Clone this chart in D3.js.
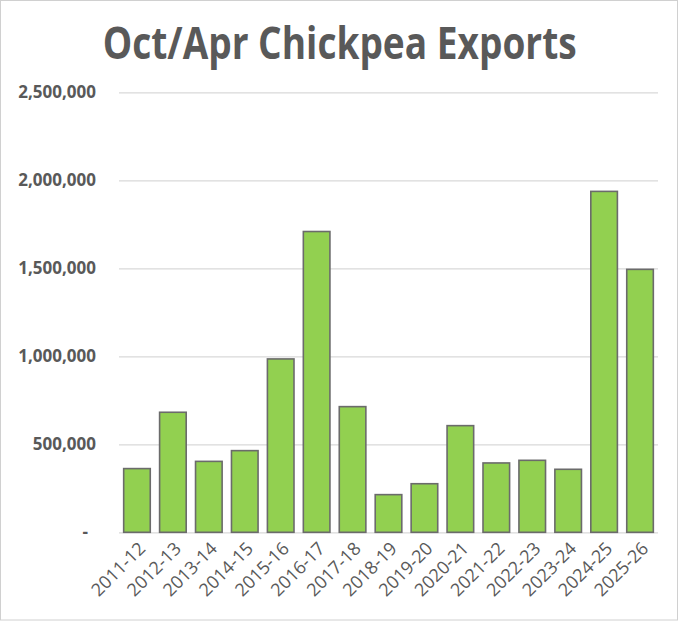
<!DOCTYPE html>
<html><head><meta charset="utf-8">
<script src="https://cdn.jsdelivr.net/npm/d3@7"></script>
<style>
html,body{margin:0;padding:0;background:#fff;}
svg{display:block;}
</style></head>
<body>
<svg id="chart" width="680" height="622"></svg>
<script>
const title = "Oct/Apr Chickpea Exports";
const categories = ["2011-12","2012-13","2013-14","2014-15","2015-16","2016-17","2017-18","2018-19","2019-20","2020-21","2021-22","2022-23","2023-24","2024-25","2025-26"];
const exportsValues = [362000,682000,403000,464000,985000,1709000,714000,214000,276000,606000,394000,409000,358000,1937000,1494000];
const yTicks = [0,500000,1000000,1500000,2000000,2500000];

const svg = d3.select("#chart");
const W = 680, H = 622;
const m = {left:119, right:22, top:92.3, bottom:89.7};

// chart border
svg.append("rect").attr("x",0.5).attr("y",0.5).attr("width",W-3).attr("height",H-2.5)
  .attr("fill","#fff").attr("stroke","#d0d0d0").attr("stroke-width",1);

const x = d3.scaleBand().domain(categories).range([m.left, W-m.right]).paddingInner(0.26).paddingOuter(0.13);
const y = d3.scaleLinear().domain([0,2500000]).range([H-m.bottom, m.top]);

// title
svg.append("text").attr("x",339.7).attr("y",58.7).attr("text-anchor","middle")
  .attr("font-family","'Open Sans', sans-serif").attr("font-weight",700).attr("font-size",44)
  .attr("fill","#595959").attr("textLength",474).attr("lengthAdjust","spacingAndGlyphs")
  .text(title);

// gridlines
const yAxis = d3.axisLeft(y).tickValues(yTicks).tickSize(-(W-m.right-m.left)).tickFormat("");
const ga = svg.append("g").attr("transform",`translate(${m.left},0)`).call(yAxis);
ga.select(".domain").remove();
ga.selectAll(".tick line").attr("stroke","#d9d9d9").attr("stroke-width",1.3);

// y labels
const fmt = d3.format(",");
svg.append("g").selectAll("text").data(yTicks).join("text")
  .attr("x", d => d === 0 ? 88 : 96)
  .attr("y", d => y(d) + 6)
  .attr("text-anchor","end")
  .attr("font-family","'Open Sans', sans-serif").attr("font-weight",700).attr("font-size",17)
  .attr("fill","#595959")
  .text(d => d === 0 ? "-" : fmt(d));

// bars
svg.append("g").selectAll("rect").data(exportsValues).join("rect")
  .attr("x",(d,i)=>x(categories[i]))
  .attr("y",d=>y(d))
  .attr("width",x.bandwidth())
  .attr("height",d=>y(0)-y(d))
  .attr("fill","#92D050")
  .attr("stroke","#6b6b6b")
  .attr("stroke-width",1.6);

// x labels
svg.append("g").selectAll("text").data(categories).join("text")
  .attr("transform", d => `translate(${x(d)+x.bandwidth()/2+5},${y(0)+13}) rotate(-45)`)
  .attr("text-anchor","end")
  .attr("dy","0.35em")
  .attr("font-family","'Open Sans', sans-serif").attr("font-size",18)
  .attr("fill","#595959")
  .text(d=>d);
</script>
</body></html>
